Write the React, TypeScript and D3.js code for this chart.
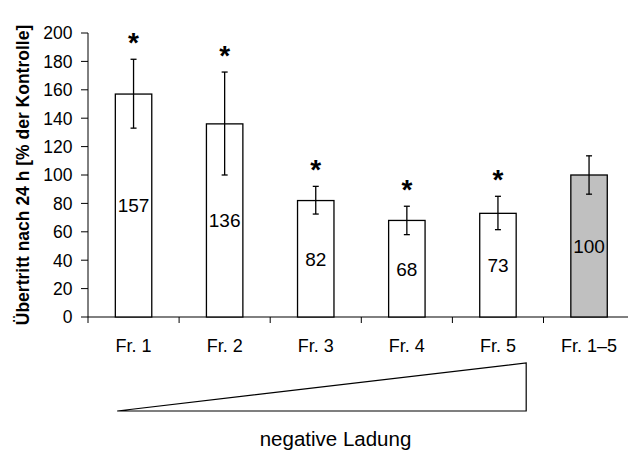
import React, { useRef, useEffect } from "react";
import * as d3 from "d3";

const categories = ["Fr. 1", "Fr. 2", "Fr. 3", "Fr. 4", "Fr. 5", "Fr. 1–5"];
const values = [157, 136, 82, 68, 73, 100];
const errLow = [133, 100, 72.5, 58, 61.5, 86.5];
const errHigh = [181.5, 172.5, 92, 78, 85, 113.5];
const significant = [true, true, true, true, true, false];
const yTicks = [0, 20, 40, 60, 80, 100, 120, 140, 160, 180, 200];

const W = 628;
const H = 450;
const FONT = "'Liberation Sans', Arial, sans-serif";

const App: React.FC = () => {
  const ref = useRef<SVGSVGElement | null>(null);

  useEffect(() => {
    const svg = d3.select(ref.current);
    svg.selectAll("*").remove();

    const left = 88;
    const x = d3
      .scaleBand<string>()
      .domain(categories)
      .range([left, left + 6 * 91.1])
      .padding(0);
    const y = d3.scaleLinear().domain([0, 200]).range([317, 33]);
    const bw = x.bandwidth() * 0.4;
    const cx = (c: string) => (x(c) as number) + x.bandwidth() / 2;

    // y axis
    svg
      .append("line")
      .attr("x1", left)
      .attr("x2", left)
      .attr("y1", y(0))
      .attr("y2", y(200))
      .attr("stroke", "#000")
      .attr("stroke-width", 1);
    const yt = svg.append("g");
    yTicks.forEach((t) => {
      yt.append("line")
        .attr("x1", left - 7)
        .attr("x2", left)
        .attr("y1", y(t))
        .attr("y2", y(t))
        .attr("stroke", "#000");
      yt.append("text")
        .attr("x", 72.5)
        .attr("y", y(t))
        .attr("dy", "0.36em")
        .attr("text-anchor", "end")
        .style("font-family", FONT)
        .style("font-size", "17.5px")
        .text(t);
    });

    // x axis
    svg
      .append("line")
      .attr("x1", left)
      .attr("x2", W + 10)
      .attr("y1", y(0))
      .attr("y2", y(0))
      .attr("stroke", "#000");
    categories.forEach((c) => {
      svg
        .append("line")
        .attr("x1", x(c) as number)
        .attr("x2", x(c) as number)
        .attr("y1", y(0))
        .attr("y2", y(0) + 6)
        .attr("stroke", "#000");
      svg
        .append("text")
        .attr("x", cx(c))
        .attr("y", 352)
        .attr("text-anchor", "middle")
        .style("font-family", FONT)
        .style("font-size", "18px")
        .text(c);
    });

    // bars
    const g = svg.append("g");
    categories.forEach((c, i) => {
      g.append("rect")
        .attr("x", cx(c) - bw / 2)
        .attr("y", y(values[i]))
        .attr("width", bw)
        .attr("height", y(0) - y(values[i]))
        .attr("fill", i === 5 ? "#c0c0c0" : "#fff")
        .attr("stroke", "#000")
        .attr("stroke-width", 1.3);
      g.append("text")
        .attr("x", cx(c))
        .attr("y", y(values[i] / 2))
        .attr("dy", "0.36em")
        .attr("text-anchor", "middle")
        .style("font-family", FONT)
        .style("font-size", "19px")
        .text(values[i]);
      // error bar
      g.append("line")
        .attr("x1", cx(c))
        .attr("x2", cx(c))
        .attr("y1", y(errLow[i]))
        .attr("y2", y(errHigh[i]))
        .attr("stroke", "#000")
        .attr("stroke-width", 1.3);
      [errLow[i], errHigh[i]].forEach((v) => {
        g.append("line")
          .attr("x1", cx(c) - 3)
          .attr("x2", cx(c) + 3)
          .attr("y1", y(v))
          .attr("y2", y(v))
          .attr("stroke", "#000")
          .attr("stroke-width", 1.3);
      });
      if (significant[i]) {
        g.append("text")
          .attr("x", cx(c))
          .attr("y", y(errHigh[i]) - 23 + 16)
          .attr("text-anchor", "middle")
          .style("font-family", FONT)
          .style("font-size", "28px")
          .style("font-weight", "bold")
          .text("*");
      }
    });

    // y axis title
    svg
      .append("text")
      .attr("transform", `translate(29,175) rotate(-90)`)
      .attr("text-anchor", "middle")
      .style("font-family", FONT)
      .style("font-size", "17.5px")
      .style("font-weight", "bold")
      .text("Übertritt nach 24 h [% der Kontrolle]");

    // charge wedge
    const tx0 = (x("Fr. 1") as number) + x.bandwidth() * 0.32;
    const tx1 = (x("Fr. 5") as number) + x.bandwidth() * 0.81;
    svg
      .append("path")
      .attr("d", `M${tx0},411 L${tx1},363 L${tx1},411 Z`)
      .attr("fill", "#fff")
      .attr("stroke", "#000")
      .attr("stroke-width", 1.2);
    svg
      .append("text")
      .attr("x", 335.5)
      .attr("y", 446)
      .attr("text-anchor", "middle")
      .style("font-family", FONT)
      .style("font-size", "20.5px")
      .text("negative Ladung");
  }, []);

  return (
    <svg
      ref={ref}
      width={W}
      height={H}
      style={{ position: "absolute", left: 0, top: 0, background: "#fff" }}
    />
  );
};

export default App;
